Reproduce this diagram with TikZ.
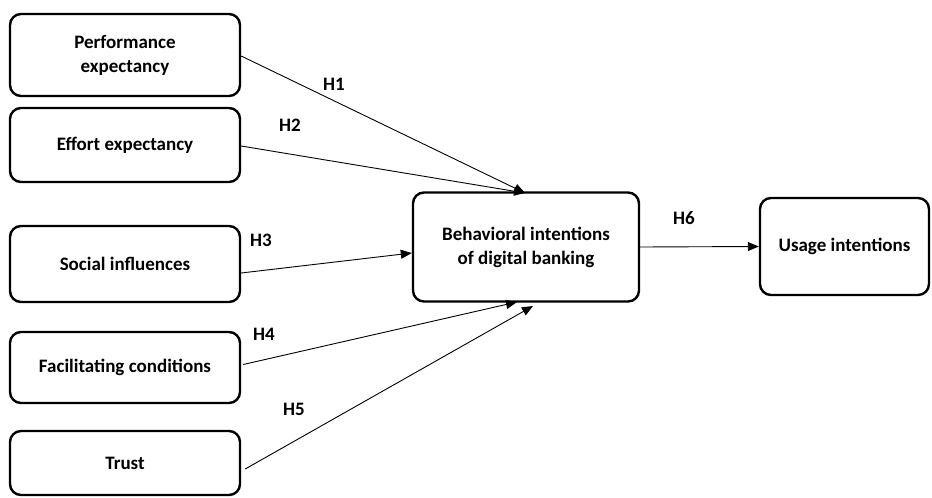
\documentclass[tikz,border=0pt]{standalone}
\usepackage{fontspec}
\setmainfont{Carlito}
\usetikzlibrary{arrows.meta}
\begin{document}
\begin{tikzpicture}[x=1pt,y=-1pt,
  box/.style={draw=black,line width=2.4pt,rounded corners=11pt,fill=white,align=center,
    font=\fontsize{19}{24}\selectfont\bfseries,inner sep=0pt},
  link/.style={draw=black,line width=0.9pt,-{Triangle[length=11pt,width=9pt]}},
  hlab/.style={font=\fontsize{19}{24}\selectfont\bfseries,inner sep=0pt}]
\useasboundingbox (0,0) rectangle (932,498);
\node[box,minimum width=230pt,minimum height=82pt] (pe) at (125,55) {Performance\\expectancy};
\node[box,minimum width=230pt,minimum height=74pt] (ee) at (125,145) {Effort expectancy};
\node[box,minimum width=230pt,minimum height=76pt] (si) at (125,264) {Social influences};
\node[box,minimum width=230pt,minimum height=71pt] (fc) at (125,367.5) {Facilitating conditions};
\node[box,minimum width=230pt,minimum height=64pt] (tr) at (125,463) {Trust};
\node[box,minimum width=226pt,minimum height=109pt] (bi) at (526,247) {Behavioral intentions\\of digital banking};
\node[box,minimum width=169pt,minimum height=97pt] (ui) at (844.5,246.5) {Usage intentions};
\coordinate (t1) at (525,193);
\coordinate (b4) at (517,302);
\coordinate (b5) at (533,306);
\draw[link] (pe.east) ++(0,1) -- (t1);
\draw[link] (ee.east) ++(0,1) -- (t1);
\draw[link] (si.east) ++(0,9) -- (bi.west |- 0,253);
\draw[link] (fc.east) ++(2,-3) -- (b4);
\draw[link] (tr.east) ++(4,6) -- (b5);
\draw[link] (bi.east) -- (ui.west);
\node[hlab] (h1) at (334,84) {H1};
\node[hlab] (h2) at (290,125) {H2};
\node[hlab] (h3) at (261,240) {H3};
\node[hlab] (h4) at (264,334) {H4};
\node[hlab] (h5) at (294,409) {H5};
\node[hlab] (h6) at (684,218) {H6};
\end{tikzpicture}
\end{document}
